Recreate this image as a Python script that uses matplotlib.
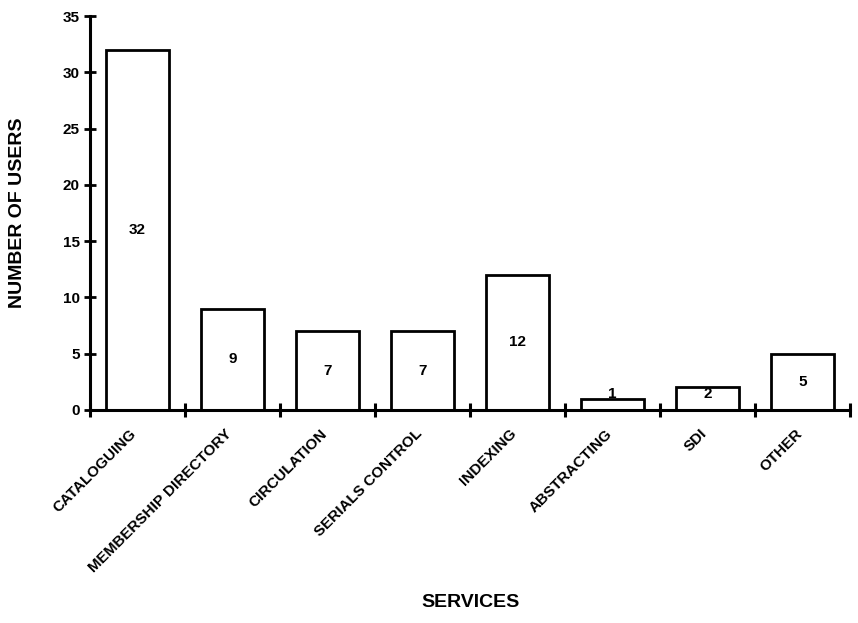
import numpy as np
import matplotlib.pyplot as plt
from matplotlib.transforms import ScaledTranslation

plt.rcParams['font.family'] = ['Liberation Sans', 'DejaVu Sans']

# data
services = ["CATALOGUING", "MEMBERSHIP DIRECTORY", "CIRCULATION", "SERIALS CONTROL",
            "INDEXING", "ABSTRACTING", "SDI", "OTHER"]
users = [32, 9, 7, 7, 12, 1, 2, 5]
y_ticks = [0, 5, 10, 15, 20, 25, 30, 35]

fig = plt.figure(figsize=(8.58, 6.23), dpi=100)
ax = fig.add_axes([0.105, 0.342, 0.886, 0.632])

x = np.arange(len(services))
ax.bar(x, users, width=0.66, facecolor='white', edgecolor='black', linewidth=2.0, zorder=2)

for xi, v in zip(x, users):
    ax.text(xi, max(v / 2, 1.4), str(v), ha='center', va='center',
            fontsize=11, fontweight='bold', zorder=3)

ax.set_xlim(-0.5, len(services) - 0.5)
ax.set_ylim(0, 35)

# tick marks sit on the category boundaries, labels under the bars
ax.set_xticks(np.arange(-0.5, len(services)), minor=False)
ax.set_xticklabels([])
ax.set_xticks(x, minor=True)
ax.set_xticklabels(services, minor=True, rotation=45, ha='right',
                   rotation_mode='anchor', fontsize=11, fontweight='bold')
ax.tick_params(axis='x', which='major', direction='inout', length=10, width=2.2)
ax.tick_params(axis='x', which='minor', length=0, pad=12)
shift = ScaledTranslation(-8 / 100, 0, fig.dpi_scale_trans)
for lbl in ax.get_xticklabels(minor=True):
    lbl.set_transform(lbl.get_transform() + shift)

ax.set_yticks(y_ticks)
ax.set_yticklabels([str(t) for t in y_ticks], fontsize=11, fontweight='bold')
ax.tick_params(axis='y', direction='inout', length=9, width=2.0, pad=3)

for side in ['top', 'right']:
    ax.spines[side].set_visible(False)
for side in ['left', 'bottom']:
    ax.spines[side].set_linewidth(2.2)

ax.set_ylabel('NUMBER OF USERS', fontsize=14, fontweight='bold')
ax.yaxis.set_label_coords(-0.095, 0.5)
ax.yaxis.label.set_va('center')
ax.set_xlabel('SERVICES', fontsize=14, fontweight='bold')
ax.xaxis.set_label_coords(0.5, -0.49)
ax.xaxis.label.set_va('center')

fig.savefig('out.png', dpi=100)
